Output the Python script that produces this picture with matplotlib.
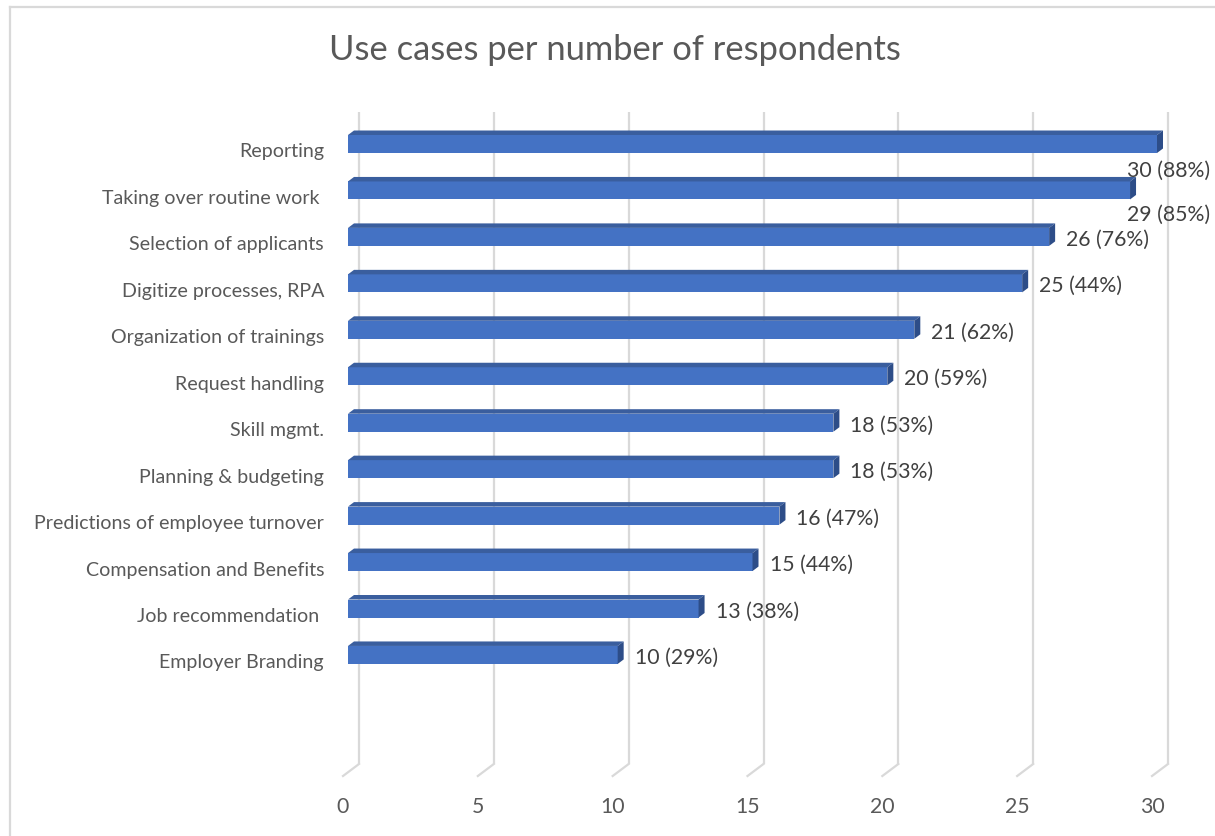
import matplotlib
matplotlib.use("Agg")
import matplotlib.pyplot as plt
from matplotlib.patches import Polygon
from matplotlib.lines import Line2D
import matplotlib.transforms as mtransforms

plt.rcParams['font.family'] = ['Lato', 'DejaVu Sans']

# Data
categories = [
    "Reporting",
    "Taking over routine work ",
    "Selection of applicants",
    "Digitize processes, RPA",
    "Organization of trainings",
    "Request handling",
    "Skill mgmt.",
    "Planning & budgeting",
    "Predictions of employee turnover",
    "Compensation and Benefits",
    "Job recommendation ",
    "Employer Branding",
]
counts = [30, 29, 26, 25, 21, 20, 18, 18, 16, 15, 13, 10]
percents = [88, 85, 76, 44, 62, 59, 53, 53, 47, 44, 38, 29]
xticks = [0, 5, 10, 15, 20, 25, 30]
title = "Use cases per number of respondents"

W, H, DPI = 1215, 837, 100
fig = plt.figure(figsize=(W / DPI, H / DPI), dpi=DPI)
fig.patch.set_facecolor("white")

# Plot region (pixels): value axis on the bar front plane, wall top to floor back
px_left, px_right = 348, 1157
px_top, px_bottom = 113, 765
ax = fig.add_axes([px_left / W, 1 - px_bottom / H,
                   (px_right - px_left) / W, (px_bottom - px_top) / H])
xmax = 30
row_px = 46.45
first_row_px = 145
ax.set_xlim(0, xmax)
ax.set_ylim((px_bottom - first_row_px) / row_px, (px_top - first_row_px) / row_px)
ax.axis("off")

ppu_x = (px_right - px_left) / xmax   # pixels per value unit
ppu_y = row_px                        # pixels per category row


def dx(p):
    return p / ppu_x


def dy(p):
    return p / ppu_y


ymin, ymax = ax.get_ylim()  # ymin is bottom (floor), ymax top

grid_color = "#D9D9D9"
# Back-wall gridlines with floor returns
wall_off = 11     # px: wall is behind the bar front plane
floor_off = -5    # px: floor front edge relative to bar front plane
floor_drop = 12   # px
for v in xticks:
    xb = v + dx(wall_off)
    xf = v + dx(floor_off)
    ax.add_line(Line2D([xb, xb], [ymax, ymin], color=grid_color, lw=1.6,
                       clip_on=False, zorder=1, solid_capstyle="butt"))
    ax.add_line(Line2D([xb, xf], [ymin, ymin + dy(floor_drop)], color=grid_color,
                       lw=1.6, clip_on=False, zorder=1))
    ax.text(xf, ymin + dy(42), str(v), ha="center", va="center",
            fontsize=15.3, color="#595959", clip_on=False)

# 3D-style bars
front_c = "#4472C4"
top_c = "#3A5E9E"
side_c = "#2D4D88"
bar_h = dy(18)
depth_x, depth_y = dx(6), dy(4.5)
ypos = list(range(len(categories)))
ax.barh(ypos, counts, height=bar_h, color=front_c, zorder=3, linewidth=0)
for y, v in zip(ypos, counts):
    top = y - bar_h / 2
    bot = y + bar_h / 2
    ax.add_patch(Polygon([(0, top), (v, top), (v + depth_x, top - depth_y),
                          (depth_x, top - depth_y)], closed=True,
                         facecolor=top_c, edgecolor="none", zorder=3, clip_on=False))
    ax.add_patch(Polygon([(v, top), (v + depth_x, top - depth_y),
                          (v + depth_x, bot - depth_y), (v, bot)], closed=True,
                         facecolor=side_c, edgecolor="none", zorder=3, clip_on=False))

# Category labels
for y, c in zip(ypos, categories):
    ax.text(dx(-24), y + dy(7), c, ha="right", va="center", fontsize=14.1,
            color="#595959", clip_on=False)

# Value labels; long bars get their label pushed inside the chart's right edge
edge_tf = mtransforms.blended_transform_factory(fig.transFigure, ax.transData)
for y, v, p in zip(ypos, counts, percents):
    label = f"{v} ({p}%)"
    if v >= 29:
        shift = 26 if v == 30 else 23
        ax.text(1 - 5 / W, y + dy(shift), label, ha="right", va="center",
                fontsize=15.3, color="#404040", transform=edge_tf, clip_on=False)
    else:
        ax.text(v + dx(17), y + dy(2), label, ha="left", va="center",
                fontsize=15.3, color="#404040", clip_on=False)

# Title
fig.text(615 / W, 1 - 50 / H, title, ha="center", va="center", fontsize=24.8,
         color="#595959")

# Chart area border (left and top edges visible)
fig.add_artist(Line2D([10 / W, 10 / W], [0, 1 - 8 / H], transform=fig.transFigure,
                      color="#D9D9D9", lw=1.6))
fig.add_artist(Line2D([10 / W, 1], [1 - 8 / H, 1 - 8 / H], transform=fig.transFigure,
                      color="#D9D9D9", lw=1.6))

fig.savefig("out.png", dpi=DPI, facecolor="white")
